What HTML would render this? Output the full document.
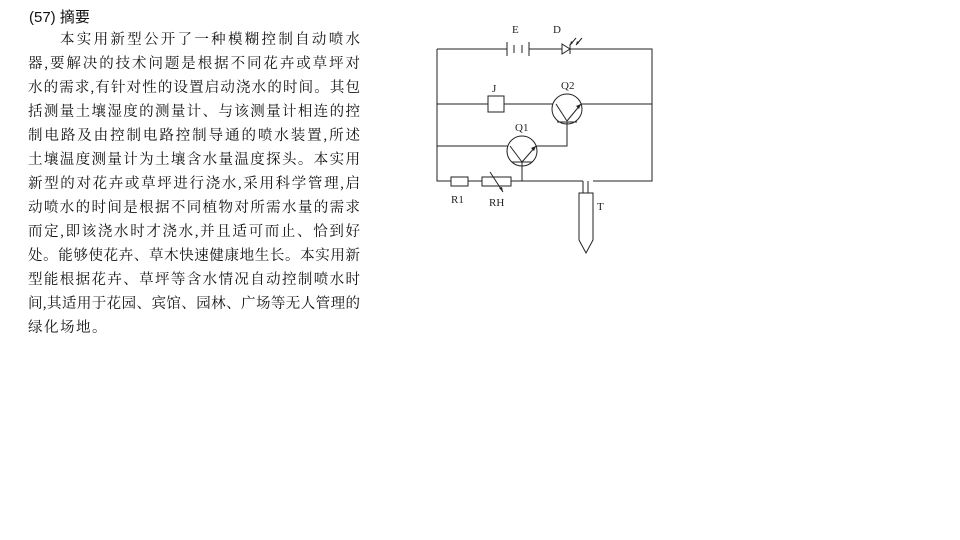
<!DOCTYPE html>
<html><head><meta charset="utf-8"><style>
body{margin:0;width:960px;height:540px;background:#fff;position:relative;overflow:hidden;font-family:"Liberation Serif","Noto Serif CJK SC",serif;color:#111}
.t{position:absolute;left:29px;top:6px;font-size:15px;font-family:"Liberation Sans","Noto Sans CJK SC",sans-serif}
.l{position:absolute;left:28px;width:332px;height:24px;line-height:24px;font-size:14.5px;text-align:justify;text-align-last:justify;white-space:nowrap}
</style></head><body>
<div class="t">(57) 摘要</div>
<div class="l" style="top:28px;left:60px;width:300px">本实用新型公开了一种模糊控制自动喷水</div>
<div class="l" style="top:52px">器,要解决的技术问题是根据不同花卉或草坪对</div>
<div class="l" style="top:76px">水的需求,有针对性的设置启动浇水的时间。其包</div>
<div class="l" style="top:100px">括测量土壤湿度的测量计、与该测量计相连的控</div>
<div class="l" style="top:124px">制电路及由控制电路控制导通的喷水装置,所述</div>
<div class="l" style="top:148px">土壤温度测量计为土壤含水量温度探头。本实用</div>
<div class="l" style="top:172px">新型的对花卉或草坪进行浇水,采用科学管理,启</div>
<div class="l" style="top:196px">动喷水的时间是根据不同植物对所需水量的需求</div>
<div class="l" style="top:220px">而定,即该浇水时才浇水,并且适可而止、恰到好</div>
<div class="l" style="top:244px">处。能够使花卉、草木快速健康地生长。本实用新</div>
<div class="l" style="top:268px">型能根据花卉、草坪等含水情况自动控制喷水时</div>
<div class="l" style="top:292px">间,其适用于花园、宾馆、园林、广场等无人管理的</div>
<div class="l" style="top:316px;text-align-last:left;letter-spacing:1.5px">绿化场地。</div>
<svg width="960" height="540" style="position:absolute;left:0;top:0" font-family="Liberation Serif,serif" font-size="11" fill="none" stroke="#222" stroke-width="1">
<path d="M437 49H507M529 49H562M570 49H652V181H593M588 181V193M583 181V193"/>
<path d="M507 42V56M514 45V53M522 45V53M529 42V56"/>
<path d="M562 44L570 49L562 54Z"/><path d="M570 44V54"/>
<path d="M576 38L570 45M582 38L576 45"/>
<path d="M437 49V181H451M468 181H482M511 181H583"/>
<rect x="451" y="177" width="17" height="9"/><rect x="482" y="177" width="29" height="9"/>
<path d="M490 172L503 192"/>
<path d="M437 104H488M504 104H553M581 104H652"/>
<rect x="488" y="96" width="16" height="16"/>
<circle cx="567" cy="109" r="15"/>
<path d="M556 104L567 121M567 121L581 104M557 122H577M567 122V146H536"/>
<path d="M437 146H508M522 162V181"/>
<circle cx="522" cy="151" r="15"/>
<path d="M510 146L522 162M522 162L536 146M512 162H532"/>
<path d="M579 193H593V240L586 253L579 240Z"/>
<g fill="#222" stroke="none">
<path d="M581 104L576 106L579 109Z"/><path d="M536 146L531 148L534 151Z"/>
<path d="M570 45L571 41L573 43Z"/><path d="M576 45L577 41L579 43Z"/>
<path d="M503 192L499 188L502 187Z"/>
<text x="512" y="33">E</text><text x="553" y="33">D</text><text x="492" y="92">J</text>
<text x="561" y="89">Q2</text><text x="515" y="131">Q1</text>
<text x="451" y="203">R1</text><text x="489" y="206">RH</text><text x="597" y="210">T</text>
</g></svg>
</body></html>
